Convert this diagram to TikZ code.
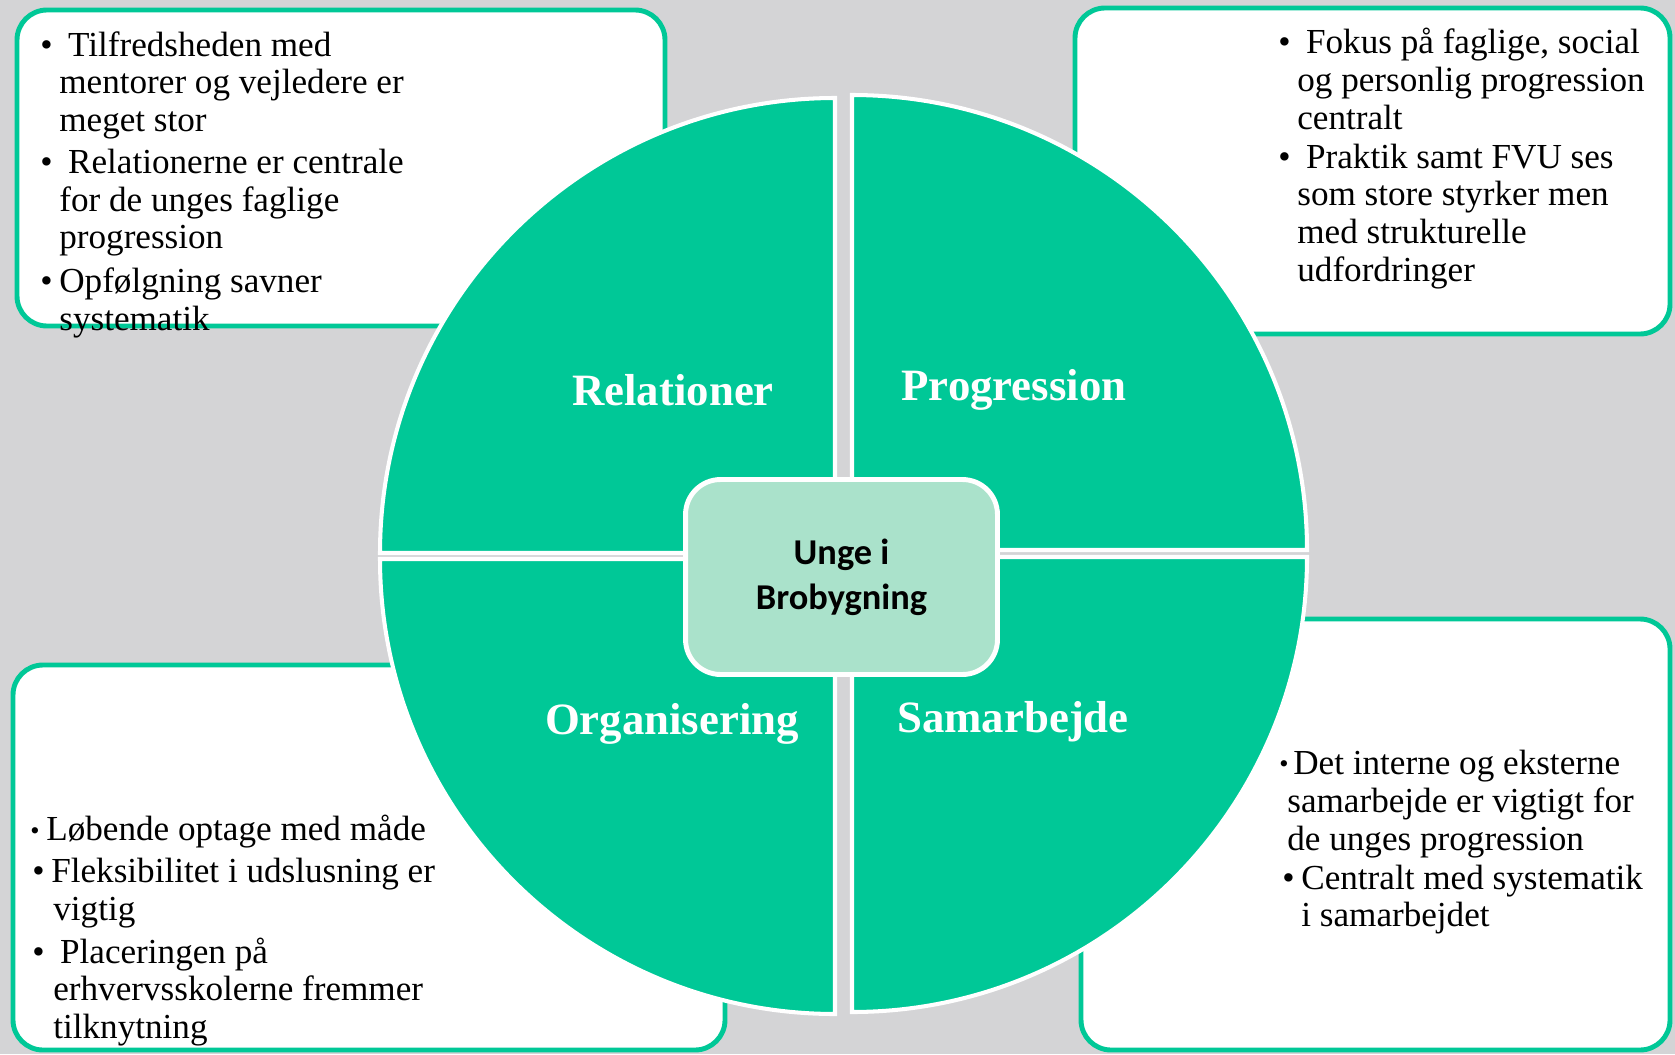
\documentclass[tikz,border=0pt]{standalone}
\usepackage{fontspec}
\setmainfont{Liberation Serif}
\newfontfamily\hubfont{Carlito}
\definecolor{quadgreen}{RGB}{0,200,151}
\definecolor{hubgreen}{RGB}{170,226,203}
\definecolor{bggray}{RGB}{212,212,214}
\newlength{\pxu}\setlength{\pxu}{0.02cm}
\newcommand{\bl}{\makebox[19\pxu][l]{\textbullet}}
\newcommand{\sbl}[1]{\makebox[#1\pxu][l]{\raisebox{0.05em}{\scalebox{0.75}{\textbullet}}}}
\newcommand{\ind}{\hspace*{19\pxu}}

\begin{document}
\begin{tikzpicture}[x=0.02cm,y=-0.02cm]
 \tikzset{box/.style={draw=quadgreen,fill=white,line width=2.8pt,rounded corners=0.6cm},
          quad/.style={fill=quadgreen,draw=white,line width=2.3pt},
          lbl/.style={text=white,anchor=base,font=\bfseries\fontsize{25.5}{30}\selectfont},
          txt/.style={anchor=north west,inner sep=0pt,align=left,font=\fontsize{20}{21.5}\selectfont}}
 \fill[bggray] (0,0) rectangle (1675,1054);
 \useasboundingbox (0,0) rectangle (1675,1054);

 % text boxes
 \draw[box] (17,10) rectangle (665,326);
 \draw[box] (1075,8) rectangle (1670,334);
 \draw[box] (13,665) rectangle (725,1050);
 \draw[box] (1081,619) rectangle (1670,1050);

 % quadrants
 \draw[quad] (835,553) -- ++(-455,0) arc[start angle=180,end angle=270,radius=455] -- cycle;
 \draw[quad] (852,550) -- ++(0,-455) arc[start angle=270,end angle=360,radius=455] -- cycle;
 \draw[quad] (852,557) -- ++(455,0) arc[start angle=0,end angle=90,radius=455] -- cycle;
 \draw[quad] (835,559) -- ++(0,455) arc[start angle=90,end angle=180,radius=455] -- cycle;

 \node[lbl] (rel) at (673,405) {Relationer};
 \node[lbl] (prog) at (1014,400) {Progression};
 \node[lbl] (org) at (672,734) {Organisering};
 \node[lbl] (samb) at (1013,732) {Samarbejde};

 \node[draw=white,fill=hubgreen,line width=2.8pt,rounded corners=0.7cm,
       minimum width=6.24cm,minimum height=3.9cm,align=center,
       font=\hubfont\bfseries\fontsize{20.7}{25.5}\selectfont] (hub) at (841.5,577) {Unge i\\Brobygning};

 % bullet texts
 \node[txt] (relTxt) at (40,31) {\bl\ Tilfredsheden med\\
   \ind mentorer og vejledere er\\
   \ind meget stor\\[4\pxu]
   \bl\ Relationerne er centrale\\
   \ind for de unges faglige\\
   \ind progression\\[6\pxu]
   \bl Opfølgning savner\\
   \ind systematik};
 \node[txt] (progTxt) at (1278,28) {\bl\ Fokus på faglige, social\\
   \ind og personlig progression\\
   \ind centralt\\[1\pxu]
   \bl\ Praktik samt FVU ses\\
   \ind som store styrker men\\
   \ind med strukturelle\\
   \ind udfordringer};
 \node[txt] (orgTxt) at (30,815) {\sbl{16}Løbende optage med måde\\[4\pxu]
   \hspace*{2\pxu}\bl Fleksibilitet i udslusning er\\
   \hspace*{23\pxu}vigtig\\[5\pxu]
   \hspace*{2\pxu}\bl\ Placeringen på\\
   \hspace*{23\pxu}erhvervsskolerne fremmer\\
   \hspace*{23\pxu}tilknytning};
 \node[txt] (sambTxt) at (1279,750) {\sbl{14}Det interne og eksterne\\
   \hspace*{8\pxu}samarbejde er vigtigt for\\
   \hspace*{8\pxu}de unges progression\\[1\pxu]
   \hspace*{3\pxu}\bl Centralt med systematik\\
   \hspace*{22\pxu}i samarbejdet};
\end{tikzpicture}
\end{document}
